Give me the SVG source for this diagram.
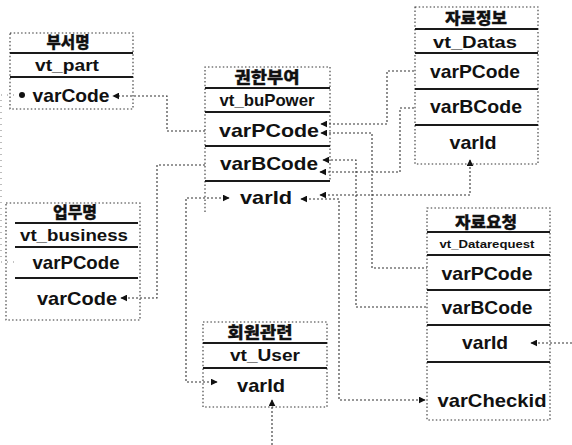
<svg xmlns="http://www.w3.org/2000/svg" width="572" height="445" viewBox="0 0 572 445">
<defs>
<marker id="ah" viewBox="0 0 10 10" refX="9" refY="5" markerWidth="7" markerHeight="7" markerUnits="userSpaceOnUse" orient="auto-start-reverse">
<path d="M0,0 L10,5 L0,10 z" fill="#111"/>
</marker>
</defs>
<style>
.box{fill:none;stroke:#333;stroke-width:1.1;stroke-dasharray:1.5 2.2}
.sep{stroke:#1a1a1a;stroke-width:2}
.ttl{font-family:"Noto Sans CJK KR","Noto Sans",sans-serif;font-weight:900;font-size:16px;fill:#111;stroke:#111;stroke-width:0.3;text-anchor:middle}
.vt{font-family:"Liberation Sans",Arial,sans-serif;font-weight:bold;font-size:17px;fill:#111;text-anchor:middle}
.fld{font-family:"Liberation Sans",Arial,sans-serif;font-weight:bold;font-size:19px;fill:#111;text-anchor:middle}
.con{fill:none;stroke:#333;stroke-width:1.1;stroke-dasharray:2 2}
.faint{stroke:#888;stroke-dasharray:1 5}
</style>

<g id="connectors">
<path class="con faint" d="M20,95 H1 V262 H14"/>
<path class="con" d="M205,131 H167 V96 H113" marker-end="url(#ah)"/>
<path class="con" d="M205,165 H157 V298 H121" marker-end="url(#ah)"/>
<path class="con" d="M229,198 H186 V382 H217" marker-start="url(#ah)" marker-end="url(#ah)"/>
<path class="con" d="M272,445 V400" marker-end="url(#ah)"/>
<path class="con" d="M321,124 H387 V71 H415" marker-start="url(#ah)"/>
<path class="con" d="M321,133 H372 V268 H427" marker-start="url(#ah)"/>
<path class="con" d="M323,160 H356 V307 H427" marker-start="url(#ah)"/>
<path class="con" d="M320,172 H400 V108 H415" marker-start="url(#ah)"/>
<path class="con" d="M320,195 H470 V160" marker-start="url(#ah)" marker-end="url(#ah)"/>
<path class="con" d="M301,199 H339 V400 H425" marker-start="url(#ah)" marker-end="url(#ah)"/>
<path class="con" d="M572,343 H531" marker-end="url(#ah)"/>
<circle cx="22" cy="95" r="3" fill="#111"/>
</g>

<g id="busername">
<rect class="box" x="10" y="33" width="123" height="76"/>
<line class="sep" x1="10" y1="53" x2="133" y2="53"/>
<line class="sep" x1="10" y1="77" x2="133" y2="77"/>
<text class="ttl" x="68" y="48" textLength="43" lengthAdjust="spacingAndGlyphs">부서명</text>
<text class="vt" x="67" y="71" textLength="64" lengthAdjust="spacingAndGlyphs">vt_part</text>
<text class="fld" x="71" y="102" textLength="77" lengthAdjust="spacingAndGlyphs">varCode</text>
</g>

<g id="buPower">
<path class="box" d="M205,212 V67 H330 V181"/>
<line class="sep" x1="205" y1="88" x2="330" y2="88"/>
<line class="sep" x1="205" y1="112" x2="330" y2="112"/>
<line class="sep" x1="205" y1="146" x2="330" y2="146"/>
<line class="sep" x1="205" y1="181" x2="330" y2="181"/>
<text class="ttl" x="267" y="83" textLength="65" lengthAdjust="spacingAndGlyphs">권한부여</text>
<text class="vt" x="267" y="106" textLength="95" lengthAdjust="spacingAndGlyphs">vt_buPower</text>
<text class="fld" x="269" y="137" textLength="100" lengthAdjust="spacingAndGlyphs">varPCode</text>
<text class="fld" x="269" y="170" textLength="98" lengthAdjust="spacingAndGlyphs">varBCode</text>
<text class="fld" x="266" y="204" textLength="52" lengthAdjust="spacingAndGlyphs">varId</text>
</g>

<g id="datas">
<rect class="box" x="415" y="7" width="123" height="157"/>
<line class="sep" x1="415" y1="29" x2="538" y2="29"/>
<line class="sep" x1="415" y1="53" x2="538" y2="53"/>
<line class="sep" x1="415" y1="89" x2="538" y2="89"/>
<line class="sep" x1="415" y1="125" x2="538" y2="125"/>
<text class="ttl" x="476" y="24" textLength="62" lengthAdjust="spacingAndGlyphs">자료정보</text>
<text class="vt" x="475" y="48" textLength="84" lengthAdjust="spacingAndGlyphs">vt_Datas</text>
<text class="fld" x="475" y="78" textLength="90" lengthAdjust="spacingAndGlyphs">varPCode</text>
<text class="fld" x="476" y="113" textLength="92" lengthAdjust="spacingAndGlyphs">varBCode</text>
<text class="fld" x="473" y="149" textLength="47" lengthAdjust="spacingAndGlyphs">varId</text>
</g>

<g id="business">
<rect class="box" x="6" y="203" width="134" height="117"/>
<line class="sep" x1="15" y1="223" x2="138" y2="223"/>
<line class="sep" x1="15" y1="247" x2="138" y2="247"/>
<line class="sep" x1="15" y1="278" x2="138" y2="278"/>
<text class="ttl" x="75" y="218" textLength="44" lengthAdjust="spacingAndGlyphs">업무명</text>
<text class="vt" x="74" y="241" textLength="108" lengthAdjust="spacingAndGlyphs">vt_business</text>
<text class="fld" x="76" y="269" textLength="87" lengthAdjust="spacingAndGlyphs">varPCode</text>
<text class="fld" x="77" y="305" textLength="80" lengthAdjust="spacingAndGlyphs">varCode</text>
</g>

<g id="user">
<rect class="box" x="203" y="322" width="124" height="85"/>
<line class="sep" x1="203" y1="343" x2="327" y2="343"/>
<line class="sep" x1="203" y1="368" x2="327" y2="368"/>
<text class="ttl" x="260" y="338" textLength="65" lengthAdjust="spacingAndGlyphs">회원관련</text>
<text class="vt" x="265" y="361" textLength="70" lengthAdjust="spacingAndGlyphs">vt_User</text>
<text class="fld" x="261" y="392" textLength="48" lengthAdjust="spacingAndGlyphs">varId</text>
</g>

<g id="datarequest">
<rect class="box" x="427" y="208" width="123" height="212"/>
<line class="sep" x1="427" y1="232" x2="550" y2="232"/>
<line class="sep" x1="427" y1="255" x2="550" y2="255"/>
<line class="sep" x1="427" y1="290" x2="550" y2="290"/>
<line class="sep" x1="427" y1="325" x2="550" y2="325"/>
<line class="sep" x1="427" y1="362" x2="550" y2="362"/>
<text class="ttl" x="486" y="228" textLength="62" lengthAdjust="spacingAndGlyphs">자료요청</text>
<text class="vt" x="487" y="248" style="font-size:11px" textLength="95" lengthAdjust="spacingAndGlyphs">vt_Datarequest</text>
<text class="fld" x="487" y="280" textLength="91" lengthAdjust="spacingAndGlyphs">varPCode</text>
<text class="fld" x="487" y="314" textLength="91" lengthAdjust="spacingAndGlyphs">varBCode</text>
<text class="fld" x="485" y="349" textLength="46" lengthAdjust="spacingAndGlyphs">varId</text>
<text class="fld" x="492" y="407" textLength="109" lengthAdjust="spacingAndGlyphs">varCheckid</text>
</g>
</svg>
